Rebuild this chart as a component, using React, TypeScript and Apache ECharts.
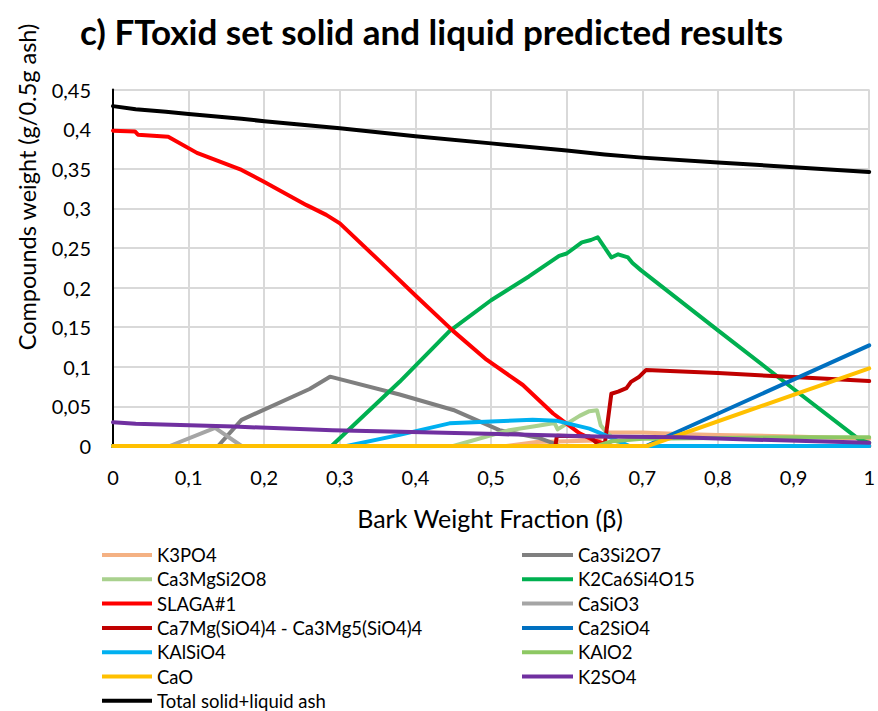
import React, { useEffect, useRef } from "react";
import * as echarts from "echarts";

const FONT = "Lato, 'Open Sans', sans-serif";

const TITLE = "c) FToxid set solid and liquid predicted results";
const X_NAME = "Bark Weight Fraction (β)";
const Y_NAME = "Compounds weight (g/0.5g ash)";

const NAMES = [
  "K3PO4",
  "Ca3Si2O7",
  "Ca3MgSi2O8",
  "K2Ca6Si4O15",
  "SLAGA#1",
  "CaSiO3",
  "Ca7Mg(SiO4)4 - Ca3Mg5(SiO4)4",
  "Ca2SiO4",
  "KAlSiO4",
  "KAlO2",
  "CaO",
  "K2SO4",
  "Total solid+liquid ash",
];

const COLORS = [
  "#F4B183",
  "#7F7F7F",
  "#A9D18E",
  "#00B050",
  "#FF0000",
  "#A5A5A5",
  "#C00000",
  "#0070C0",
  "#00B0F0",
  "#8DC863",
  "#FFC000",
  "#7030A0",
  "#000000",
];

const k3po4X = [0, 0.52, 0.56, 0.6, 0.64, 0.655, 0.7, 0.75, 0.8, 0.9, 1.0];
const k3po4Y = [0, 0, 0.005, 0.006, 0.007, 0.017, 0.017, 0.015, 0.014, 0.012, 0.009];

const ca3si2o7X = [0, 0.139, 0.17, 0.26, 0.287, 0.379, 0.45, 0.511, 0.564, 0.581, 0.59, 1.0];
const ca3si2o7Y = [0, 0, 0.033, 0.072, 0.0875, 0.065, 0.0455, 0.02, 0.01, 0.004, 0, 0];

const ca3mgsi2o8X = [0, 0.45, 0.524, 0.564, 0.584, 0.588, 0.617, 0.63, 0.64, 0.645, 0.652, 0.665, 0.68, 1.0];
const ca3mgsi2o8Y = [0, 0, 0.02, 0.026, 0.029, 0.021, 0.038, 0.044, 0.045, 0.026, 0.018, 0.006, 0, 0];

const k2ca6si4o15X = [0, 0.289, 0.379, 0.445, 0.5, 0.55, 0.59, 0.6, 0.62, 0.632, 0.641, 0.659, 0.668, 0.681, 0.687, 0.698, 0.8, 0.9, 0.987, 1.0];
const k2ca6si4o15Y = [0, 0, 0.081, 0.145, 0.184, 0.214, 0.24, 0.243, 0.257, 0.26, 0.2635, 0.238, 0.242, 0.238, 0.231, 0.222, 0.146, 0.072, 0.008, 0.004];

const slagaX = [0, 0.029, 0.033, 0.073, 0.111, 0.17, 0.199, 0.256, 0.282, 0.3, 0.353, 0.4, 0.45, 0.494, 0.542, 0.582, 0.617, 0.634, 0.65, 0.66, 1.0];
const slagaY = [0.398, 0.397, 0.393, 0.3905, 0.37, 0.3485, 0.334, 0.304, 0.2917, 0.281, 0.233, 0.19, 0.145, 0.109, 0.077, 0.041, 0.016, 0.008, 0.003, 0, 0];

const casio3X = [0, 0.075, 0.135, 0.17, 1.0];
const casio3Y = [0, 0, 0.023, 0, 0];

const ca7mgX = [0, 0.585, 0.587, 0.63, 0.644, 0.65, 0.659, 0.668, 0.679, 0.685, 0.696, 0.705, 0.8, 0.9, 1.0];
const ca7mgY = [0, 0, 0.013, 0.012, 0, 0, 0.066, 0.0686, 0.073, 0.081, 0.0875, 0.096, 0.092, 0.087, 0.082];

const ca2sio4X = [0, 0.705, 1.0];
const ca2sio4Y = [0, 0, 0.127];

const kalsio4X = [0, 0.309, 0.379, 0.445, 0.5, 0.555, 0.586, 0.608, 0.63, 0.65, 0.665, 0.683, 1.0];
const kalsio4Y = [0, 0, 0.014, 0.0286, 0.031, 0.033, 0.032, 0.027, 0.022, 0.014, 0.0076, 0, 0];

const kalo2X = [0, 0.64, 0.66, 0.7, 0.8, 0.9, 1.0];
const kalo2Y = [0, 0, 0.006, 0.009, 0.01, 0.011, 0.011];

const caoX = [0, 0.707, 1.0];
const caoY = [0, 0, 0.098];

const k2so4X = [0, 0.03, 0.16, 0.29, 0.38, 0.51, 0.64, 0.75, 0.85, 1.0];
const k2so4Y = [0.03, 0.028, 0.0245, 0.02, 0.018, 0.015, 0.012, 0.011, 0.008, 0.004];

const totalX = [0, 0.03, 0.07, 0.1, 0.17, 0.2, 0.3, 0.35, 0.4, 0.5, 0.6, 0.65, 0.7, 0.8, 0.9, 1.0];
const totalY = [0.429, 0.425, 0.422, 0.419, 0.413, 0.41, 0.401, 0.396, 0.391, 0.382, 0.373, 0.368, 0.364, 0.358, 0.352, 0.346];

const SERIES_XY: [number[], number[]][] = [
  [k3po4X, k3po4Y],
  [ca3si2o7X, ca3si2o7Y],
  [ca3mgsi2o8X, ca3mgsi2o8Y],
  [k2ca6si4o15X, k2ca6si4o15Y],
  [slagaX, slagaY],
  [casio3X, casio3Y],
  [ca7mgX, ca7mgY],
  [ca2sio4X, ca2sio4Y],
  [kalsio4X, kalsio4Y],
  [kalo2X, kalo2Y],
  [caoX, caoY],
  [k2so4X, k2so4Y],
  [totalX, totalY],
];

const LEFT_LEGEND = [NAMES[0], NAMES[2], NAMES[4], NAMES[6], NAMES[8], NAMES[10], NAMES[12]];
const RIGHT_LEGEND = [NAMES[1], NAMES[3], NAMES[5], NAMES[7], NAMES[9], NAMES[11]];

const fmt = (v: number) => String(+v.toFixed(2)).replace(".", ",");

export default function App() {
  const ref = useRef<HTMLDivElement>(null);
  useEffect(() => {
    if (!ref.current) return;
    const chart = echarts.init(ref.current, null, { renderer: "svg" });
    const legendCommon = {
      orient: "vertical" as const,
      top: 545,
      padding: 0,
      height: 166,
      icon: "rect",
      itemWidth: 50,
      itemHeight: 4,
      itemGap: 4.3,
      textStyle: { fontFamily: FONT, fontSize: 18.5, color: "#000", height: 20, lineHeight: 20 },
      selectedMode: false,
    };
    chart.setOption({
      animation: false,
      backgroundColor: "#fff",
      color: COLORS,
      grid: { left: 113, right: 8, top: 89.5, bottom: 265, containLabel: false },
      graphic: [
        {
          type: "text",
          x: 80,
          y: 31,
          style: {
            text: TITLE,
            fontFamily: FONT,
            fontSize: 35,
            fontWeight: "bold",
            fill: "#000",
            align: "left",
            verticalAlign: "middle",
          },
        },
        {
          type: "text",
          x: 27,
          y: 187,
          rotation: Math.PI / 2,
          style: {
            text: Y_NAME,
            fontFamily: FONT,
            fontSize: 23.5,
            fill: "#000",
            align: "center",
            verticalAlign: "middle",
          },
        },
        {
          type: "text",
          x: 490,
          y: 518,
          style: {
            text: X_NAME,
            fontFamily: FONT,
            fontSize: 25,
            fill: "#000",
            align: "center",
            verticalAlign: "middle",
          },
        },
      ],
      legend: [
        { ...legendCommon, left: 102, data: LEFT_LEGEND },
        { ...legendCommon, left: 522, itemWidth: 51, data: RIGHT_LEGEND },
      ],
      xAxis: {
        type: "value",
        min: 0,
        max: 1,
        interval: 0.1,
        axisLine: { show: true, lineStyle: { color: "#D9D9D9", width: 2 } },
        axisTick: { show: false },
        splitLine: { show: true, lineStyle: { color: "#D9D9D9", width: 2 } },
        axisLabel: { fontFamily: FONT, fontSize: 20, color: "#000", margin: 21, formatter: fmt, showMaxLabel: true },
      },
      yAxis: {
        type: "value",
        min: 0,
        max: 0.45,
        interval: 0.05,
        axisLine: { show: true, lineStyle: { color: "#000", width: 2 } },
        axisTick: { show: false },
        splitLine: { show: true, lineStyle: { color: "#D9D9D9", width: 2 } },
        axisLabel: { fontFamily: FONT, fontSize: 20, color: "#000", margin: 22, formatter: fmt },
      },
      series: SERIES_XY.map(([xs, ys], i) => ({
        name: NAMES[i],
        type: "line",
        showSymbol: false,
        symbol: "none",
        data: xs.map((x, j) => [x, ys[j]]),
        lineStyle: { width: 4, color: COLORS[i], cap: "round", join: "round" },
        itemStyle: { color: COLORS[i] },
        z: 2 + i * 0.01,
      })),
    });
    return () => chart.dispose();
  }, []);
  return <div ref={ref} style={{ position: "fixed", left: 0, top: 0, width: 878, height: 711 }} />;
}
